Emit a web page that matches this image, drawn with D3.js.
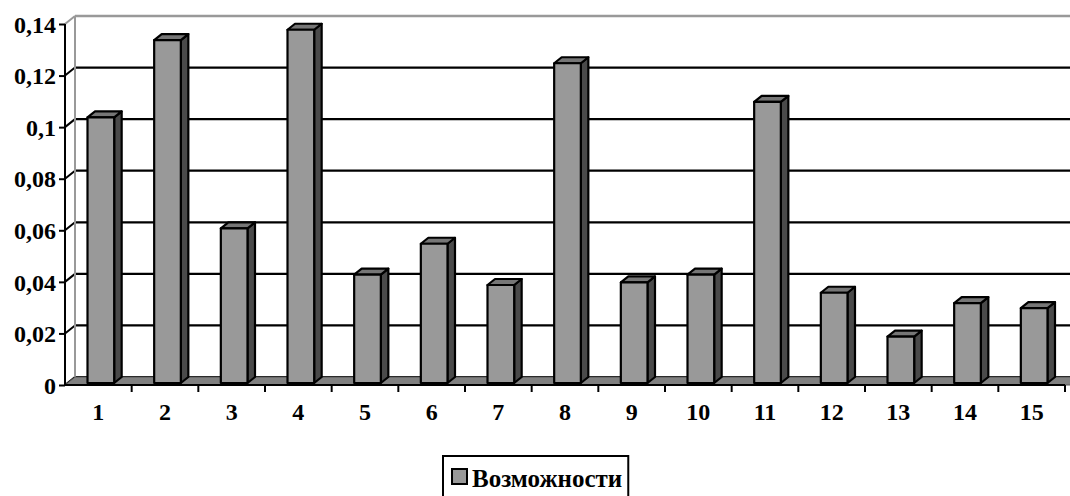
<!DOCTYPE html>
<html>
<head>
<meta charset="utf-8">
<script src="https://cdn.jsdelivr.net/npm/d3@7"></script>
<style>
  html, body { margin: 0; padding: 0; background: #fff; }
  svg { display: block; }
  text { font-family: "Liberation Serif", "Times New Roman", serif; font-weight: bold; fill: #000; }
</style>
</head>
<body>
<svg id="chart" width="1070" height="496"></svg>
<script>
// Series data
const categories = ["1","2","3","4","5","6","7","8","9","10","11","12","13","14","15"];
const values = [0.103, 0.133, 0.060, 0.137, 0.042, 0.054, 0.038, 0.124, 0.039, 0.042, 0.109, 0.035, 0.018, 0.031, 0.029];
const yTickValues = [0, 0.02, 0.04, 0.06, 0.08, 0.10, 0.12, 0.14];
const seriesName = "Возможности";

const W = 1070, H = 496;
const FS = 24;
const svg = d3.select("#chart");

// Plot frame (front plane) and the depth vector of the 3D box
const plotLeft = 65, plotRight = 1065, plotBottom = 385, plotTop = 24;
const depth = { dx: 10, dy: -8 };
const barFront = 0.25, barDepth = 0.75;   // fractions of the box depth

const x = d3.scaleBand().domain(categories).range([plotLeft, plotRight]).paddingInner(0.6).paddingOuter(0.3);
const y = d3.scaleLinear().domain([0, 0.14]).range([plotBottom, plotTop]);
const ruFmt = d3.formatLocale({ decimal: ",", thousands: " ", grouping: [3], currency: ["", ""] }).format("~g");

const at = (px, py, t) => [px + depth.dx * t, py + depth.dy * t];
const poly = pts => "M" + pts.map(p => p.join(",")).join("L") + "Z";

// Back wall gridlines
const grid = svg.append("g");
yTickValues.forEach(v => {
  const [bx, by] = at(plotLeft, y(v), 1);
  const isTop = v === yTickValues[yTickValues.length - 1];
  grid.append("line")
    .attr("x1", bx).attr("x2", W + 10).attr("y1", by).attr("y2", by)
    .attr("stroke", isTop ? "#999" : "#000").attr("stroke-width", isTop ? 2.5 : 2.2);
  // left wall segment
  grid.append("line")
    .attr("x1", plotLeft).attr("y1", y(v)).attr("x2", bx).attr("y2", by)
    .attr("stroke", isTop ? "#999" : "#000").attr("stroke-width", 2);
});
// back wall left edge
{
  const [bx0, by0] = at(plotLeft, y(0), 1);
  const [bx1, by1] = at(plotLeft, y(0.14), 1);
  grid.append("line").attr("x1", bx0).attr("y1", by0).attr("x2", bx1).attr("y2", by1)
    .attr("stroke", "#999").attr("stroke-width", 2);
}

// Floor
{
  const p0 = [plotLeft, y(0)], p1 = [plotRight + 10, y(0)];
  svg.append("path")
    .attr("d", poly([p0, p1, at(p1[0], p1[1], 1), at(p0[0], p0[1], 1)]))
    .attr("fill", "#808080").attr("stroke", "#555").attr("stroke-width", 1);
}

// Bars
const bars = svg.append("g");
categories.forEach((c, i) => {
  const v = values[i];
  const bw = x.bandwidth();
  const [fx, fyBase] = at(x(c), y(0), barFront);
  const fyTop = fyBase - (y(0) - y(v));
  const dx = depth.dx * barDepth, dy = depth.dy * barDepth;
  const g = bars.append("g").attr("stroke", "#000").attr("stroke-width", 2.2).attr("stroke-linejoin", "round");
  // side
  g.append("path").attr("d", poly([[fx + bw, fyBase], [fx + bw + dx, fyBase + dy], [fx + bw + dx, fyTop + dy], [fx + bw, fyTop]]))
    .attr("fill", "#4a4a4a");
  // top
  g.append("path").attr("d", poly([[fx, fyTop], [fx + bw, fyTop], [fx + bw + dx, fyTop + dy], [fx + dx, fyTop + dy]]))
    .attr("fill", "#767676");
  // front
  g.append("path").attr("d", poly([[fx, fyBase], [fx + bw, fyBase], [fx + bw, fyTop], [fx, fyTop]]))
    .attr("fill", "#999999");
});

// Axes
const yAxis = d3.axisLeft(y).tickValues(yTickValues).tickFormat(ruFmt).tickSize(6).tickPadding(3);
const gy = svg.append("g").attr("transform", `translate(${plotLeft},0)`).call(yAxis);
gy.select(".domain").attr("stroke", "#000").attr("stroke-width", 2).attr("d", `M0,${plotBottom}V${plotTop}`);
gy.selectAll(".tick line").attr("stroke", "#000").attr("stroke-width", 2);
gy.selectAll(".tick text").attr("font-size", FS).attr("font-family", "Liberation Serif").attr("font-weight", "bold").attr("fill", "#000").attr("dy", "0.34em");

const xTicks = d3.scaleLinear().domain([0, categories.length]).range([plotLeft, plotRight]);
const gx = svg.append("g").attr("transform", `translate(0,${plotBottom})`);
gx.append("line").attr("x1", plotLeft).attr("x2", plotRight).attr("stroke", "#000").attr("stroke-width", 2);
d3.range(1, categories.length + 1).forEach(k => {
  gx.append("line").attr("x1", xTicks(k)).attr("x2", xTicks(k)).attr("y1", 0).attr("y2", 7)
    .attr("stroke", "#000").attr("stroke-width", 2);
});
gx.selectAll("text.cat").data(categories).join("text").attr("class", "cat")
  .attr("x", d => x(d) + x.bandwidth() / 2).attr("y", 35)
  .attr("text-anchor", "middle").attr("font-size", FS).text(d => d);

// Legend
const lg = svg.append("g");
const lt = lg.append("text").attr("x", 472).attr("y", 487).attr("font-size", 25).text(seriesName);
const tw = lt.node().getComputedTextLength();
lg.insert("rect", "text").attr("x", 443).attr("y", 456).attr("width", 472 + tw + 6 - 443).attr("height", 60)
  .attr("fill", "#fff").attr("stroke", "#000").attr("stroke-width", 2);
lg.append("rect").attr("x", 452).attr("y", 469).attr("width", 15).attr("height", 15)
  .attr("fill", "#999999").attr("stroke", "#000").attr("stroke-width", 2);
</script>
</body>
</html>
